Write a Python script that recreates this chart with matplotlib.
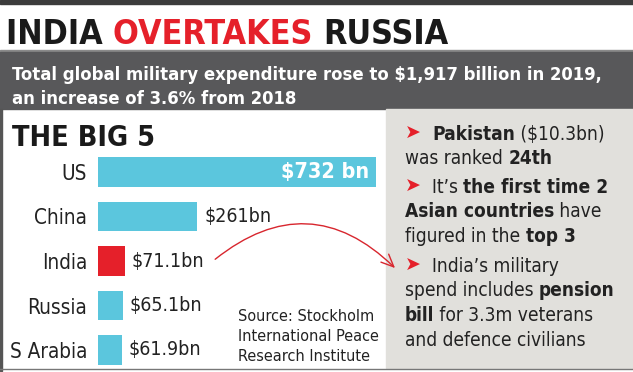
import matplotlib
matplotlib.use('Agg')
import matplotlib.pyplot as plt
from matplotlib.patches import Rectangle, FancyArrowPatch

countries = ['US', 'China', 'India', 'Russia', 'S Arabia']
spend = [732, 261, 71.1, 65.1, 61.9]
value_labels = ['$732 bn', '$261bn', '$71.1bn', '$65.1bn', '$61.9bn']
bar_colors = ['#5bc6dd', '#5bc6dd', '#e5202a', '#5bc6dd', '#5bc6dd']

title_parts = [('INDIA ', '#1a1a1a'), ('OVERTAKES ', '#e5202a'), ('RUSSIA', '#1a1a1a')]
subtitle = ['Total global military expenditure rose to $1,917 billion in 2019,',
            'an increase of 3.6% from 2018']
source = ['Source: Stockholm', 'International Peace', 'Research Institute']

# right panel notes: bullet flag, (text, bold) runs, right edge in the reference
notes = [
    (True,  [('Pakistan', True), (' ($10.3bn)', False)], 613),
    (False, [('was ranked ', False), ('24th', True)], 560),
    (True,  [('It\u2019s ', False), ('the first time 2', True)], 608),
    (False, [('Asian countries', True), (' have', False)], 602),
    (False, [('figured in the ', False), ('top 3', True)], 584),
    (True,  [('India\u2019s military', False)], 573),
    (False, [('spend includes ', False), ('pension', True)], 629),
    (False, [('bill', True), (' for 3.3m veterans', False)], 625),
    (False, [('and defence civilians', False)], 620),
]
note_y = [140, 164, 193, 217, 242, 272, 296, 321, 346]

FAM = 'DejaVu Sans'
ST = 'condensed'

W, H = 633, 372
fig = plt.figure(figsize=(W / 100, H / 100), dpi=100)
bg = fig.add_axes([0, 0, 1, 1])
bg.set_xlim(0, W); bg.set_ylim(H, 0); bg.axis('off')
fig.canvas.draw()
rend = fig.canvas.get_renderer()

def width_of(parts, size):
    w = 0
    for txt, bold, _ in parts:
        t = bg.text(0, 0, txt, fontsize=size, family=FAM, fontstretch=ST,
                    fontweight='bold' if bold else 'normal')
        w += t.get_window_extent(rend).width
        t.remove()
    return w

def fit(txt, width, weight='normal'):
    return 10 * width / width_of([(txt, weight == 'bold', None)], 10)

def run_text(x, y, parts, size):
    for txt, bold, col in parts:
        t = bg.text(x, y, txt, fontsize=size, family=FAM, fontstretch=ST, color=col,
                    fontweight='bold' if bold else 'normal', va='baseline')
        x += t.get_window_extent(rend).width

# frame pieces
bg.add_patch(Rectangle((0, 0), W, 4, color='#3c3c3c'))
bg.add_patch(Rectangle((0, 50), W, 2, color='#8a8a8a'))
bg.add_patch(Rectangle((0, 52), W, 57, color='#58585a'))
bg.add_patch(Rectangle((386, 109), W - 386, 259, color='#e1e0dc'))
bg.add_patch(Rectangle((0, 109), 2, 262, color='#555555'))
bg.plot([0, W], [369, 369], color='#777777', lw=1)

run_text(6, 44, [(p, True, c) for p, c in title_parts], fit('INDIA OVERTAKES RUSSIA', 440, 'bold'))
sub_size = fit(subtitle[0], 588, 'bold')
bg.text(12, 80, subtitle[0], fontsize=sub_size, family=FAM, fontstretch=ST, color='white', fontweight='bold')
bg.text(12, 104, subtitle[1], fontsize=sub_size, family=FAM, fontstretch=ST, color='white', fontweight='bold')
bg.text(12, 146, 'THE BIG 5', fontsize=fit('THE BIG 5', 143, 'bold'), family=FAM, fontstretch=ST,
        color='#1a1a1a', fontweight='bold')
src_size = fit(source[1], 140)
for line, y in zip(source, [321, 341, 361]):
    bg.text(238, y, line, fontsize=src_size, family=FAM, fontstretch=ST, color='#222222')

# one size for the whole note block, the tightest line decides
sizes = []
for bullet, parts, right in notes:
    x = 432 if bullet else 405
    sizes.append(10 * (right - x) / width_of([(t, b, None) for t, b in parts], 10))
note_size = min(sizes)
for (bullet, parts, right), y in zip(notes, note_y):
    x = 405
    if bullet:
        bg.text(x, y - 1, '\u27a4', fontsize=note_size, family='DejaVu Sans', color='#e5202a',
                va='baseline')
        x = 432
    run_text(x, y, [(t, b, '#222222') for t, b in parts], note_size)

# the bars
ax = fig.add_axes([98 / W, 1 - 367.8 / H, (376 - 98) / W, 4.9 * 44.5 / H])
ax.set_facecolor('none')
ypos = range(len(countries))
ax.barh(ypos, spend, height=0.67, color=bar_colors)
ax.set_xlim(0, 732)
ax.set_ylim(4.4, -0.5)
cat_size = fit('S Arabia', 78)
ax.set_yticks(list(ypos), countries, fontsize=cat_size, family=FAM, fontstretch=ST, color='#222222')
ax.tick_params(axis='y', length=0, pad=8)
ax.set_xticks([])
for s in ax.spines.values():
    s.set_visible(False)
val_size = fit('$61.9bn', 72)
for i, (v, lab) in enumerate(zip(spend, value_labels)):
    if i == 0:
        ax.annotate(lab, (v, i), xytext=(-5, 0), textcoords='offset points', ha='right',
                    va='center', fontsize=fit(lab, 88, 'bold'), family=FAM, fontstretch=ST,
                    fontweight='bold', color='white')
    else:
        ax.annotate(lab, (v, i), xytext=(5, 0), textcoords='offset points', ha='left',
                    va='center', fontsize=val_size, family=FAM, fontstretch=ST, color='#222222')

arrow = FancyArrowPatch((213, 261), (397, 270), connectionstyle='arc3,rad=-0.45',
                        arrowstyle='->,head_length=9,head_width=4', color='#d8262e', lw=1)
bg.add_patch(arrow)

fig.savefig('out.png', dpi=100)
